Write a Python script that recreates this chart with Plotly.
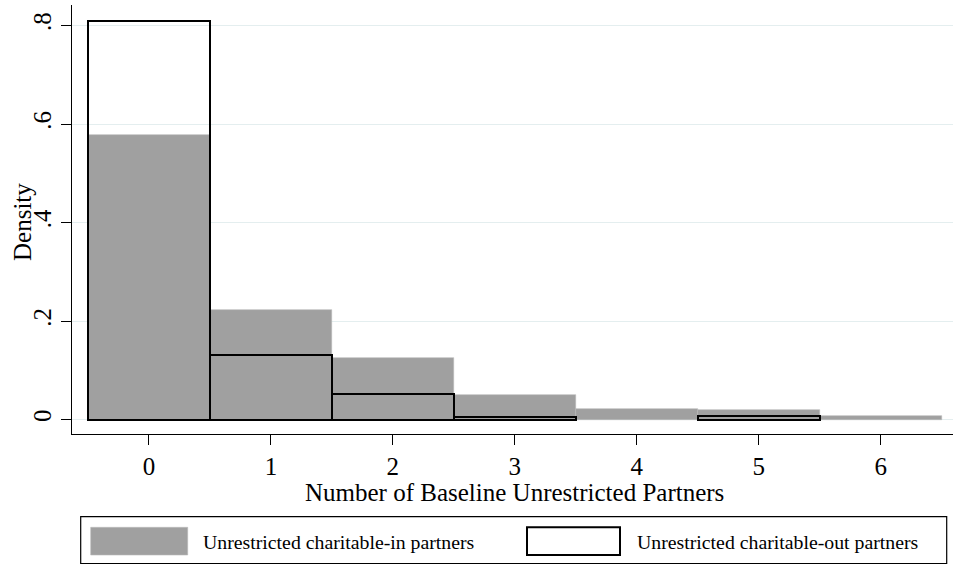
import plotly.graph_objects as go

# Histogram bins: number of baseline unrestricted partners
bins = [0, 1, 2, 3, 4, 5, 6]
tick_labels = ["0", "1", "2", "3", "4", "5", "6"]

# Density of each bin for the two partner groups
density_in = [0.578, 0.222, 0.124, 0.049, 0.022, 0.019, 0.008]
density_out = [0.810, 0.131, 0.052, 0.006, 0.0, 0.007, 0.0]

y_ticks = [0, 0.2, 0.4, 0.6, 0.8]
y_tick_labels = ["0", ".2", ".4", ".6", ".8"]

series_names = ["Unrestricted charitable-in partners",
                "Unrestricted charitable-out partners"]

W, H = 953, 564
L, R, T, B = 72, 0, 5, 130
PW, PH = W - L - R, H - T - B

FONT = "Liberation Serif, Times New Roman, serif"
GRAY = "#a0a0a0"
GRID = "#e4eeef"


def px_x(p):
    return (p - L) / PW


def px_y(p):
    return (H - B - p) / PH


fig = go.Figure()

fig.add_trace(go.Bar(
    x=bins, y=density_in, width=1.0, name=series_names[0],
    marker=dict(color=GRAY, line=dict(color="#b8b8b8", width=0.6)),
    showlegend=False,
))

# Outline bars only where the group has observations
out_x = [b for b, v in zip(bins, density_out) if v > 0]
out_y = [v for v in density_out if v > 0]
fig.add_trace(go.Bar(
    x=out_x, y=out_y, width=1.0, name=series_names[1],
    marker=dict(color="rgba(0,0,0,0)", line=dict(color="black", width=2)),
    showlegend=False,
))

fig.update_layout(
    width=W, height=H, autosize=False,
    margin=dict(l=L, r=R, t=T, b=B, pad=0),
    paper_bgcolor="white", plot_bgcolor="white",
    barmode="overlay", bargap=0,
    font=dict(family=FONT, color="black", size=25),
    showlegend=False,
)

fig.update_xaxes(
    range=[-0.631, 6.593], tickmode="array", tickvals=bins, ticktext=tick_labels,
    showline=True, linecolor="black", linewidth=1.2,
    ticks="outside", ticklen=10, tickwidth=1.2, tickcolor="black",
    showgrid=False, zeroline=False,
    tickfont=dict(family=FONT, size=25),
)
fig.update_yaxes(
    range=[-0.0294, 0.8416], tickmode="array", tickvals=y_ticks, ticktext=y_tick_labels,
    tickangle=-90,
    showline=True, linecolor="black", linewidth=1.2,
    ticks="outside", ticklen=10, tickwidth=1.2, tickcolor="black",
    showgrid=True, gridcolor=GRID, gridwidth=1.4, zeroline=False,
    tickfont=dict(family=FONT, size=25),
)

annotations = [
    dict(text="Number of Baseline Unrestricted Partners", xref="paper", yref="paper",
         x=px_x(514), y=px_y(492), xanchor="center", yanchor="middle",
         showarrow=False, font=dict(family=FONT, size=25)),
    dict(text="Density", xref="paper", yref="paper", textangle=-90,
         x=px_x(22), y=px_y(222), xanchor="center", yanchor="middle",
         showarrow=False, font=dict(family=FONT, size=25)),
    dict(text=series_names[0], xref="paper", yref="paper",
         x=px_x(201), y=px_y(542), xanchor="left", yanchor="middle",
         showarrow=False, font=dict(family=FONT, size=19.8)),
    dict(text=series_names[1], xref="paper", yref="paper",
         x=px_x(635), y=px_y(542), xanchor="left", yanchor="middle",
         showarrow=False, font=dict(family=FONT, size=19.8)),
]

shapes = [
    # legend frame
    dict(type="rect", xref="paper", yref="paper",
         x0=px_x(80.7), x1=px_x(946.7), y0=px_y(563.5), y1=px_y(516.7),
         line=dict(color="black", width=1.2), fillcolor="white", layer="above"),
    # legend keys
    dict(type="rect", xref="paper", yref="paper",
         x0=px_x(90.7), x1=px_x(187.7), y0=px_y(555), y1=px_y(527.3),
         line=dict(color="#b8b8b8", width=0.6), fillcolor=GRAY, layer="above"),
    dict(type="rect", xref="paper", yref="paper",
         x0=px_x(527), x1=px_x(620), y0=px_y(555), y1=px_y(527.3),
         line=dict(color="black", width=2), fillcolor="white", layer="above"),
]

fig.update_layout(annotations=annotations, shapes=shapes)

fig.write_html("out.html")
